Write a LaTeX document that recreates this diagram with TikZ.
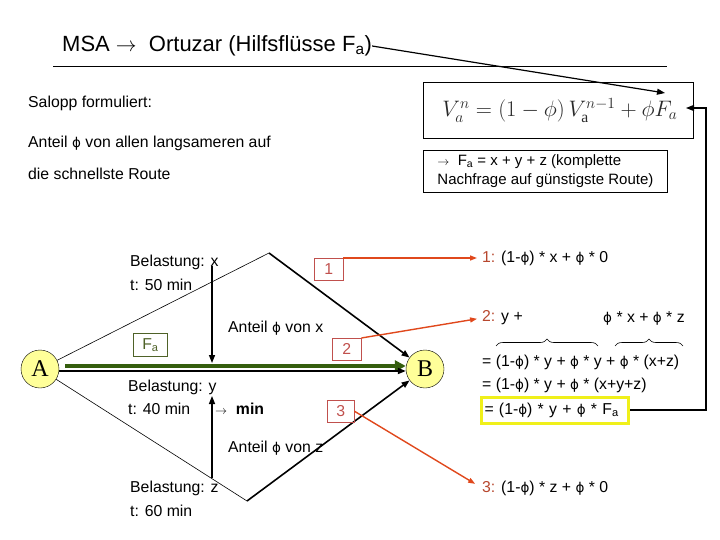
\documentclass[tikz,border=0pt]{standalone}
\usepackage{graphicx}
\usepackage{fontspec}
\setmainfont{Liberation Sans}
\newfontfamily\serifnode{Liberation Serif}
\newfontfamily\phifont{DejaVu Sans}
\newcommand{\ph}{{\phifont\fontsize{13.5}{16}\selectfont ϕ}}
\newcommand{\arr}[1]{{\fontsize{#1}{#1}\selectfont$\rightarrow$}}
\usetikzlibrary{arrows.meta,decorations.pathreplacing}
\definecolor{redline}{HTML}{E0481C}
\definecolor{boxred}{HTML}{C0504D}
\definecolor{labred}{HTML}{B7472E}
\definecolor{dgreen}{HTML}{355E0E}
\definecolor{olive}{HTML}{4F6228}
\definecolor{nodeyel}{HTML}{FFFF99}
\definecolor{hlyel}{HTML}{F0F01A}
\definecolor{formgray}{HTML}{2A2A2A}
\begin{document}
\begin{tikzpicture}[x=1pt,y=-1pt,font=\fontsize{15.8}{19}\selectfont,
  txt/.style={anchor=west,inner sep=0pt},
  pnode/.style={circle,draw,fill=nodeyel,minimum size=38pt,inner sep=0pt,font=\serifnode\fontsize{24}{24}\selectfont},
  thinpath/.style={line width=0.6pt},
  thickarr/.style={line width=1.6pt,-{Triangle[length=8pt,width=6pt]}},
  redbox/.style={draw=boxred,text=boxred,minimum width=29pt,minimum height=22pt,inner sep=0pt},
  redarr/.style={draw=redline,line width=1.4pt,-{Triangle[length=7pt,width=5pt]}},
  blkarr/.style={line width=1.4pt,-{Triangle[length=8pt,width=6pt]}},
  plainbox/.style={draw,line width=0.8pt,inner sep=0pt},
  brc/.style={decorate,decoration={brace,amplitude=7pt},line width=0.6pt}]
\useasboundingbox (0,0) rectangle (720,540);
% title
\node[txt] (title) at (62,46) {\fontsize{22}{26}\selectfont MSA \arr{22}\ \ Ortuzar (Hilfsflüsse F\textsubscript{a})};
\coordinate (rl) at (53,66);
\coordinate (rr) at (667,66);
\draw[line width=0.8pt] (rl) -- (rr);
% left texts
\node[txt] (salopp) at (28,103) {Salopp formuliert:};
\node[txt] (anteil) at (28,143) {Anteil \ph\ von allen langsameren auf};
\node[txt] (schnell) at (28,174) {die schnellste Route};
% formula box
\node[plainbox,minimum width=270pt,minimum height=56pt,anchor=north west] (form) at (423,82)
  {\color{formgray}\fontsize{20.74}{24}\selectfont\hspace{3pt}\scalebox{1.08}{$V_a^n = (1-\phi)\,V_{\hbox{\serifnode\fontsize{14.5}{15}\selectfont a}}^{n-1} + \phi F_a$}};
\coordinate (fa) at (686,108);
\coordinate (ft) at (665,93);
\node[plainbox,anchor=north west,minimum width=244pt,minimum height=42pt,align=left,inner xsep=4pt] (fbox) at (423,150)
  {\fontsize{15}{18}\selectfont \arr{13}\ \ F\textsubscript{a} = x + y + z (komplette\\\fontsize{15}{18}\selectfont Nachfrage auf günstigste Route)};
\draw[blkarr,line width=1.2pt] (title.east) -- (ft);
% nodes
\node[pnode] (A) at (40,369) {A};
\node[pnode] (B) at (425,369) {B};
\coordinate (top) at (269,253);
\coordinate (bot) at (247,501);
\draw[thinpath] (A) -- (top);
\draw[thickarr] (top) -- (B);
\draw[thinpath] (A) -- (bot);
\draw[thickarr] (bot) -- (B);
\draw[line width=4.5pt,dgreen,-{Triangle[length=11pt,width=11pt]}] ([xshift=6pt,yshift=3pt]A.east) -- ([yshift=3pt]B.west);
\draw[thickarr] ([yshift=-2pt]A.east) -- ([yshift=-2pt]B.west);
% path labels
\node[txt] (bx) at (130,262) {Belastung: x};
\node[txt] (tx) at (130,285) {t: 50 min};
\node[txt] (ax) at (228,328) {Anteil \ph\ von x};
\node[draw=olive,text=olive,line width=0.8pt,minimum width=34pt,minimum height=23pt,inner sep=0pt,anchor=north west] (F) at (133,333) {F\textsubscript{a}};
\node[txt] (by) at (128,387) {Belastung: y};
\node[txt] (ty) at (128,409) {t: 40 min};
\node[txt] (my) at (215,409) {\arr{13}\ \ \textbf{min}};
\node[txt] (az) at (228,448) {Anteil \ph\ von z};
\node[txt] (bz) at (130,488) {Belastung: z};
\node[txt] (tz) at (130,511) {t: 60 min};
\coordinate (v1s) at (212,266);
\coordinate (v1e) at (212,363);
\coordinate (v2s) at (212,478);
\coordinate (v2e) at (212,396);
\draw[blkarr] (v1s) -- (v1e);
\draw[blkarr] (v2s) -- (v2e);
% red boxes
\node[redbox,anchor=north west] (b1) at (314,258) {1};
\node[redbox,anchor=north west] (b2) at (332,338) {2};
\node[redbox,anchor=north west,minimum width=27pt] (b3) at (327,400) {3};
% right texts
\node[txt] (l1) at (482,258) {\textcolor{labred}{1:} (1-\ph) * x + \ph\ * 0};
\node[txt] (l2) at (482,318) {\textcolor{labred}{2:} y +};
\node[txt] (l2b) at (603,318) {\ph\ * x + \ph\ * z};
\node[txt] (e1) at (482,362) {= (1-\ph) * y + \ph\ * y + \ph\ * (x+z)};
\node[txt] (e2) at (482,385) {= (1-\ph) * y + \ph\ * (x+y+z)};
\node[draw=hlyel,line width=3pt,anchor=west,text width=141pt,inner xsep=3pt,minimum height=26pt] (yl) at (480,410) {= (1-\ph) * y + \ph\ * F\textsubscript{a}};
\node[txt] (l3) at (482,488) {\textcolor{labred}{3:} (1-\ph) * z + \ph\ * 0};
\coordinate (br1a) at (496,346);
\coordinate (br1b) at (598,346);
\coordinate (br2a) at (615,346);
\coordinate (br2b) at (683,346);
\draw[brc] (br1a) -- (br1b);
\draw[brc] (br2a) -- (br2b);
% red arrows
\draw[redarr,shorten >=5pt] (b1.north east) -- (l1.west);
\draw[redarr,shorten >=5pt] (b2.north east) -- (l2.west);
\draw[redarr,shorten >=8pt] (b3.east) -- (l3.west);
% feedback connector
\coordinate (c) at (706,108);
\draw[line width=1.2pt,-{Triangle[length=8pt,width=6pt]}] (yl.east) -| (c) -- (fa);
\end{tikzpicture}
\end{document}
